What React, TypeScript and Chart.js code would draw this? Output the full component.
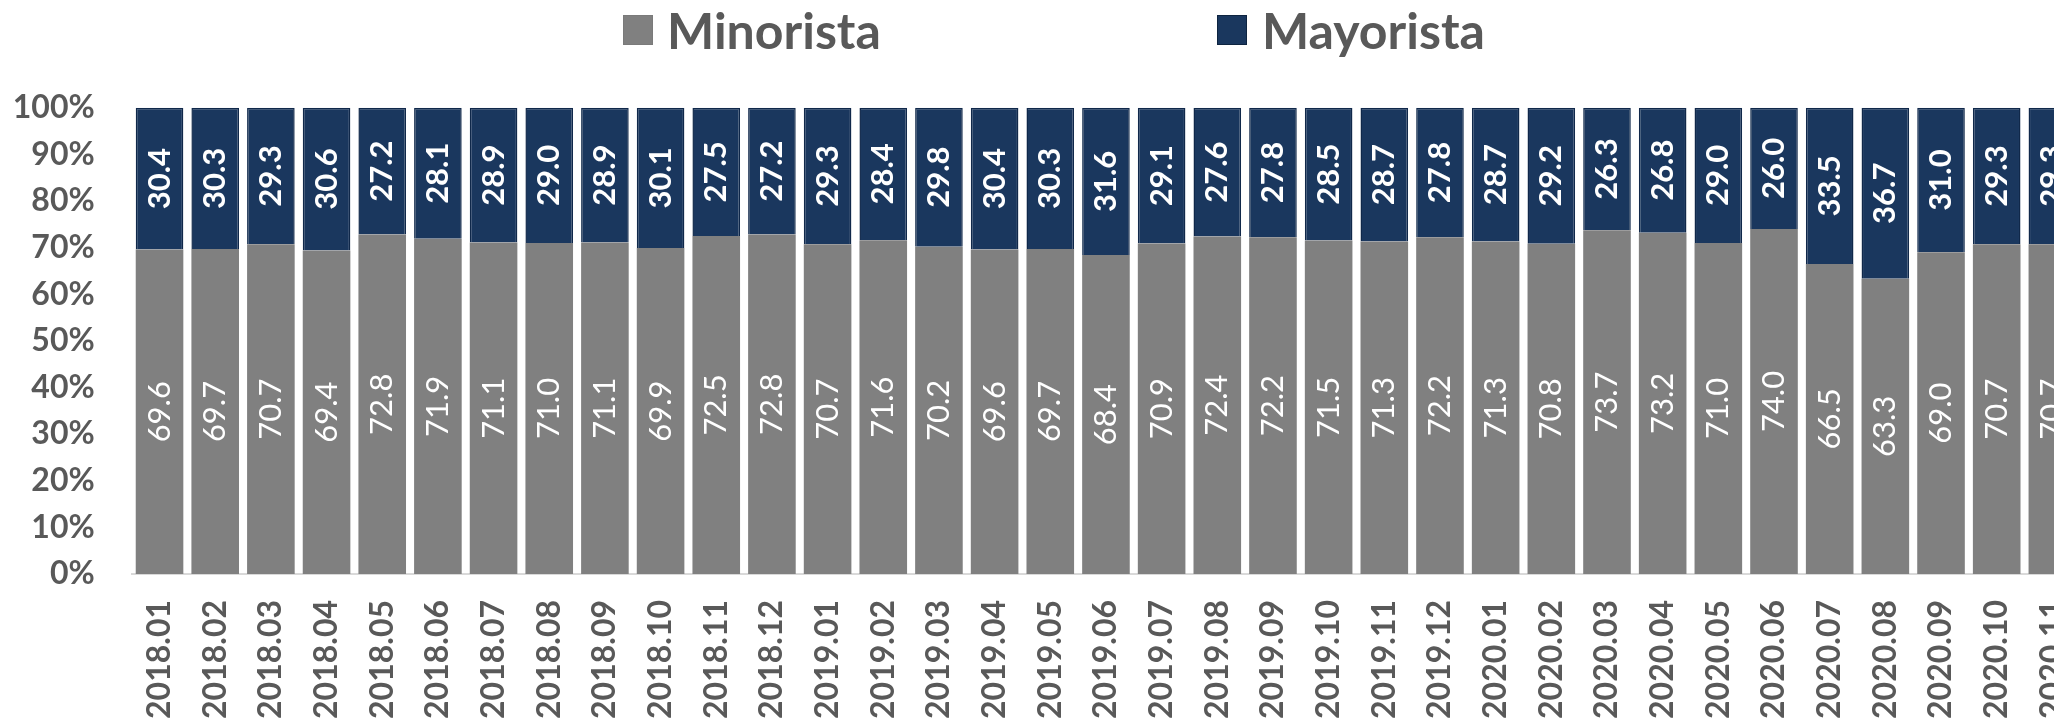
import React, { useEffect, useRef } from "react";
import { Chart, registerables } from "chart.js";

Chart.register(...registerables);

const categories = [
  "2018.01", "2018.02", "2018.03", "2018.04", "2018.05", "2018.06",
  "2018.07", "2018.08", "2018.09", "2018.10", "2018.11", "2018.12",
  "2019.01", "2019.02", "2019.03", "2019.04", "2019.05", "2019.06",
  "2019.07", "2019.08", "2019.09", "2019.10", "2019.11", "2019.12",
  "2020.01", "2020.02", "2020.03", "2020.04", "2020.05", "2020.06",
  "2020.07", "2020.08", "2020.09", "2020.10", "2020.11",
];

const minorista = [
  69.6, 69.7, 70.7, 69.4, 72.8, 71.9, 71.1, 71.0, 71.1, 69.9, 72.5, 72.8,
  70.7, 71.6, 70.2, 69.6, 69.7, 68.4, 70.9, 72.4, 72.2, 71.5, 71.3, 72.2,
  71.3, 70.8, 73.7, 73.2, 71.0, 74.0, 66.5, 63.3, 69.0, 70.7, 70.7,
];

const mayorista = [
  30.4, 30.3, 29.3, 30.6, 27.2, 28.1, 28.9, 29.0, 28.9, 30.1, 27.5, 27.2,
  29.3, 28.4, 29.8, 30.4, 30.3, 31.6, 29.1, 27.6, 27.8, 28.5, 28.7, 27.8,
  28.7, 29.2, 26.3, 26.8, 29.0, 26.0, 33.5, 36.7, 31.0, 29.3, 29.3,
];

const seriesNames = ["Minorista", "Mayorista"];
const seriesColors = ["#808080", "#1a375e"];

const TEXT = "#595959";
const FONT = "Lato, 'Open Sans', sans-serif";
const CANVAS_W = 2100;
const CANVAS_H = 722;

const barLabels = {
  id: "barLabels",
  afterDatasetsDraw(chart: any) {
    const ctx = chart.ctx;
    chart.data.datasets.forEach((ds: any, di: number) => {
      const meta = chart.getDatasetMeta(di);
      meta.data.forEach((el: any, i: number) => {
        const { x, y, base } = el.getProps(["x", "y", "base"], true);
        const v = ds.data[i] as number;
        ctx.save();
        ctx.translate(x, (y + base) / 2);
        ctx.rotate(-Math.PI / 2);
        ctx.font = `${di === 0 ? "normal" : "bold"} 31px ${FONT}`;
        ctx.fillStyle = "#ffffff";
        ctx.textAlign = "center";
        ctx.textBaseline = "middle";
        ctx.fillText(v.toFixed(1), 0, 0);
        ctx.restore();
      });
    });
  },
};

export default function App() {
  const ref = useRef<HTMLCanvasElement>(null);

  useEffect(() => {
    if (!ref.current) return;
    const chart = new Chart(ref.current, {
      type: "bar",
      data: {
        labels: categories,
        datasets: [
          {
            label: seriesNames[0],
            data: minorista,
            backgroundColor: seriesColors[0],
            borderWidth: 0,
            barPercentage: 0.855,
            categoryPercentage: 1,
          },
          {
            label: seriesNames[1],
            data: mayorista,
            backgroundColor: seriesColors[1],
            borderColor: "#10284a",
            borderWidth: 1.5,
            barPercentage: 0.855,
            categoryPercentage: 1,
          },
        ],
      },
      options: {
        responsive: false,
        animation: false,
        layout: { padding: { top: 107.7, left: 0, right: CANVAS_W - 2080.2, bottom: 0 } },
        plugins: {
          legend: { display: false },
          tooltip: { enabled: false },
        },
        scales: {
          x: {
            stacked: true,
            grid: { display: false, drawTicks: false },
            border: { display: true, color: "#d9d9d9", width: 2 },
            ticks: {
              autoSkip: false,
              minRotation: 90,
              maxRotation: 90,
              padding: 26,
              color: TEXT,
              font: { family: FONT, size: 32, weight: "bold" },
            },
            afterFit: (s: any) => {
              s.height = 148;
              s.paddingLeft = 0;
              s.paddingRight = 0;
            },
          },
          y: {
            stacked: true,
            min: 0,
            max: 100,
            grid: { display: false, drawTicks: false },
            border: { display: false },
            ticks: {
              stepSize: 10,
              padding: 37,
              color: TEXT,
              font: { family: FONT, size: 32, weight: "bold" },
              callback: (v: any) => `${v}%`,
            },
            afterFit: (s: any) => {
              s.width = 131.7;
            },
          },
        },
      },
      plugins: [barLabels],
    });
    return () => chart.destroy();
  }, []);

  const legendText: React.CSSProperties = {
    position: "absolute",
    top: 2,
    height: 56,
    lineHeight: "56px",
    fontFamily: FONT,
    fontWeight: 700,
    fontSize: 50,
    color: TEXT,
    whiteSpace: "nowrap",
  };
  const box = (left: number, color: string, border: string): React.CSSProperties => ({
    position: "absolute",
    left,
    top: 15,
    width: 30,
    height: 30,
    background: color,
    boxSizing: "border-box",
    border: `1px solid ${border}`,
  });

  return (
    <div
      style={{
        position: "fixed",
        left: 0,
        top: 0,
        width: 2054,
        height: 722,
        overflow: "hidden",
        background: "#ffffff",
      }}
    >
      <canvas
        ref={ref}
        width={CANVAS_W}
        height={CANVAS_H}
        style={{ display: "block", position: "absolute", left: 0, top: 0 }}
      />
      <div style={box(623, seriesColors[0], "#7a7a7a")} />
      <div style={{ ...legendText, left: 667 }}>{seriesNames[0]}</div>
      <div style={box(1217, seriesColors[1], "#0e2440")} />
      <div style={{ ...legendText, left: 1262 }}>{seriesNames[1]}</div>
    </div>
  );
}
